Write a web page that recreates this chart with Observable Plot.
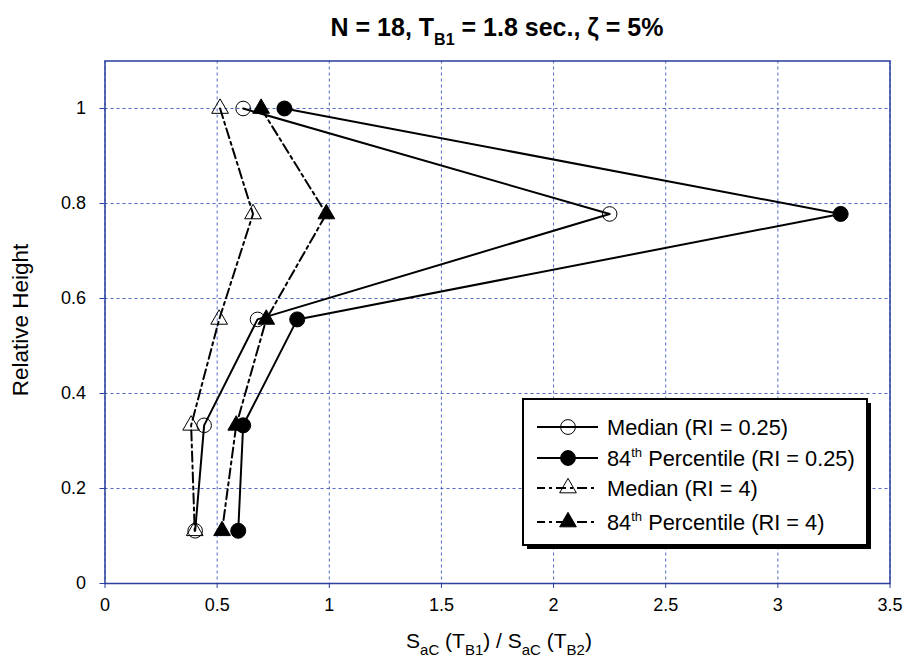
<!DOCTYPE html>
<html>
<head>
<meta charset="utf-8">
<script src="https://cdn.jsdelivr.net/npm/d3@7"></script>
<script src="https://cdn.jsdelivr.net/npm/@observablehq/plot@0.6"></script>
<style>
  html, body { margin: 0; padding: 0; background: #fff; overflow: hidden; }
  #chart { width: 909px; height: 667px; }
</style>
</head>
<body>
<div id="chart"></div>
<script>
// ---- data ----
const heights = [1, 0.778, 0.556, 0.333, 0.111];
const medianRI025 = [0.616, 2.25, 0.68, 0.442, 0.402];
const p84RI025 = [0.80, 3.28, 0.857, 0.616, 0.594];
const medianRI4 = [0.513, 0.66, 0.509, 0.384, 0.40];
const p84RI4 = [0.696, 0.987, 0.719, 0.585, 0.522];
const xTicks = [0, 0.5, 1, 1.5, 2, 2.5, 3, 3.5];
const xTickLabels = ["0", "0.5", "1", "1.5", "2", "2.5", "3", "3.5"];
const yTicks = [0, 0.2, 0.4, 0.6, 0.8, 1];
const yTickLabels = ["0", "0.2", "0.4", "0.6", "0.8", "1"];
const seriesNames = ["medianRI025", "p84RI025", "medianRI4", "p84RI4"];
const seriesValues = [medianRI025, p84RI025, medianRI4, p84RI4];

const rows = [];
seriesNames.forEach((s, k) => heights.forEach((h, i) => rows.push({series: s, x: seriesValues[k][i], y: h})));
const sel = s => rows.filter(r => r.series === s);

// ---- styles ----
const BLUE = "#2a3f9e";
const GRID = "#4a5fbf";
const DASHDOT = "10,4,3,4";
const font = "'Liberation Sans', Arial, sans-serif";

const plot = Plot.plot({
  width: 909,
  height: 667,
  marginLeft: 104.5,
  marginRight: 19.5,
  marginTop: 60.5,
  marginBottom: 84,
  style: {fontFamily: font, fontSize: "18px", background: "#fff", color: "#000"},
  x: {domain: [0, 3.5]},
  y: {domain: [0, 1.1]},
  marks: [
    Plot.gridX(xTicks, {stroke: GRID, strokeOpacity: 0.95, strokeDasharray: "3,3", strokeWidth: 1}),
    Plot.gridY(yTicks, {stroke: GRID, strokeOpacity: 0.95, strokeDasharray: "3,3", strokeWidth: 1}),
    Plot.frame({stroke: BLUE, strokeWidth: 1.5}),
    Plot.axisX(xTicks, {tickFormat: (d, i) => xTickLabels[i], tickSize: 5, tickPadding: 10, stroke: BLUE, fill: "#000", label: null, fontSize: 18}),
    Plot.axisY(yTicks, {tickFormat: (d, i) => yTickLabels[i], tickSize: 5, tickPadding: 14, stroke: BLUE, fill: "#000", label: null, fontSize: 18}),
    Plot.line(sel("medianRI4"), {x: "x", y: "y", stroke: "#000", strokeWidth: 2, strokeDasharray: DASHDOT}),
    Plot.line(sel("p84RI4"), {x: "x", y: "y", stroke: "#000", strokeWidth: 2, strokeDasharray: DASHDOT}),
    Plot.line(sel("medianRI025"), {x: "x", y: "y", stroke: "#000", strokeWidth: 2}),
    Plot.line(sel("p84RI025"), {x: "x", y: "y", stroke: "#000", strokeWidth: 2}),
    Plot.dot(sel("medianRI4"), {x: "x", y: "y", symbol: "triangle", r: 6.2, fill: "none", stroke: "#000", strokeWidth: 1}),
    Plot.dot(sel("p84RI4"), {x: "x", y: "y", symbol: "triangle", r: 6.2, fill: "#000", stroke: "#000", strokeWidth: 1}),
    Plot.dot(sel("medianRI025"), {x: "x", y: "y", symbol: "circle", r: 7.3, fill: "none", stroke: "#000", strokeWidth: 1}),
    Plot.dot(sel("p84RI025"), {x: "x", y: "y", symbol: "circle", r: 7.5, fill: "#000", stroke: "#000", strokeWidth: 1})
  ]
});
document.getElementById("chart").appendChild(plot);

// ---- texts with subscripts ----
const svg = d3.select(plot);
function rich(parent, parts, attrs) {
  const t = parent.append("text").attr("text-anchor", "middle");
  Object.entries(attrs).forEach(([k, v]) => t.attr(k, v));
  parts.forEach(p => {
    const ts = t.append("tspan").text(p.t);
    if (p.size) ts.attr("font-size", p.size);
    if (p.dy) ts.attr("dy", p.dy);
  });
  return t;
}
// title
rich(svg, [
  {t: "N = 18, T"},
  {t: "B1", dy: 9, size: 16},
  {t: " = 1.8 sec., \u03B6 = 5%", dy: -9}
], {x: 497, y: 36, "font-family": font, "font-size": 25, "font-weight": "bold", fill: "#000"});
// x label
rich(svg, [
  {t: "S"}, {t: "aC", dy: 7, size: 15}, {t: " (T", dy: -7}, {t: "B1", dy: 7, size: 15},
  {t: ") / S", dy: -7}, {t: "aC", dy: 7, size: 15}, {t: " (T", dy: -7}, {t: "B2", dy: 7, size: 15},
  {t: ")", dy: -7}
], {x: 499, y: 648, "font-family": font, "font-size": 21, fill: "#000"});
// y label
svg.append("text").attr("transform", "translate(28,320) rotate(-90)")
  .attr("text-anchor", "middle").attr("font-family", font).attr("font-size", 22.5).attr("fill", "#000")
  .text("Relative Height");

// ---- legend ----
const lg = svg.append("g");
lg.append("rect").attr("x", 527).attr("y", 403).attr("width", 344).attr("height", 146).attr("fill", "#000");
lg.append("rect").attr("x", 523).attr("y", 399).attr("width", 344).attr("height", 146)
  .attr("fill", "#fff").attr("stroke", "#000").attr("stroke-width", 2);
const legendItems = [
  {y: 427, dash: null, sym: "circle", fill: "none", label: [{t: "Median (RI = 0.25)"}]},
  {y: 458, dash: null, sym: "circle", fill: "#000", label: [{t: "84"}, {t: "th", sup: true}, {t: " Percentile (RI = 0.25)"}]},
  {y: 488, dash: DASHDOT, sym: "triangle", fill: "none", label: [{t: "Median (RI = 4)"}]},
  {y: 522, dash: DASHDOT, sym: "triangle", fill: "#000", label: [{t: "84"}, {t: "th", sup: true}, {t: " Percentile (RI = 4)"}]}
];
legendItems.forEach(it => {
  const ln = lg.append("line").attr("x1", 537).attr("x2", 598).attr("y1", it.y).attr("y2", it.y)
    .attr("stroke", "#000").attr("stroke-width", 2);
  if (it.dash) ln.attr("stroke-dasharray", it.dash).attr("stroke-dashoffset", 2);
  const path = it.sym === "circle"
    ? d3.symbol(d3.symbolCircle, Math.PI * 7.4 * 7.4)()
    : d3.symbol(d3.symbolTriangle, Math.PI * 6.2 * 6.2)();
  lg.append("path").attr("d", path).attr("transform", `translate(568,${it.y})`)
    .attr("fill", it.fill).attr("stroke", "#000").attr("stroke-width", 1);
  const t = lg.append("text").attr("x", 607).attr("y", it.y + 8).attr("text-anchor", "start")
    .attr("font-family", font).attr("font-size", 21.8).attr("fill", "#000");
  let raised = false;
  it.label.forEach(p => {
    const ts = t.append("tspan").text(p.t);
    if (p.sup) { ts.attr("dy", -9).attr("font-size", 13); raised = true; }
    else if (raised) { ts.attr("dy", 9); raised = false; }
  });
});
</script>
</body>
</html>
